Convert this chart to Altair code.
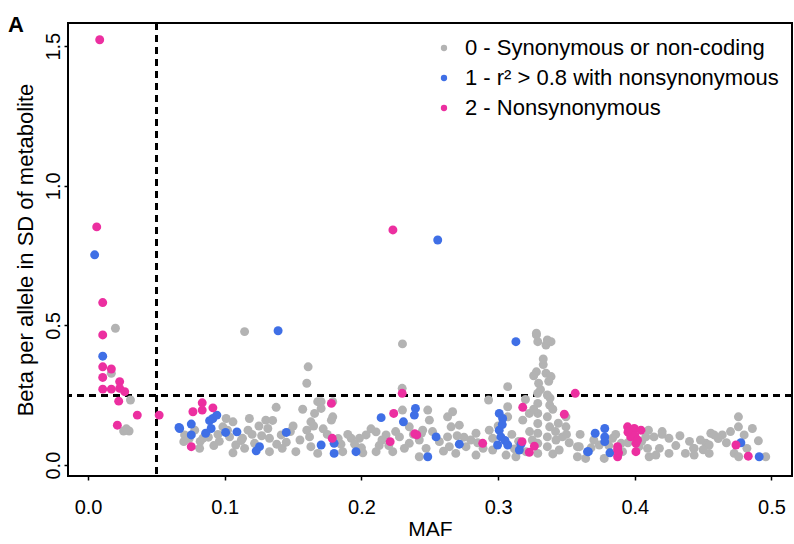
import altair as alt
import pandas as pd

# ---- data ----
cat_labels = ["0 - Synonymous or non-coding",
              "1 - r\u00b2 > 0.8 with nonsynonymous",
              "2 - Nonsynonymous"]
colors = ["#b3b3b3", "#3f6fe6", "#ec2fa0"]

maf_syn = [0.020, 0.017, 0.031, 0.026, 0.030, 0.028,
           0.0706, 0.070, 0.074, 0.078, 0.0816, 0.084, 0.082, 0.088, 0.095, 0.0986, 0.1035, 0.101, 0.106, 0.096, 0.092,
           0.1145, 0.161, 0.16, 0.1376, 0.157, 0.168, 0.1657, 0.163, 0.162, 0.163, 0.168, 0.152, 0.118, 0.117, 0.113,
           0.108, 0.106, 0.1145, 0.1218, 0.13, 0.1315, 0.1327, 0.1327, 0.1413, 0.125, 0.12, 0.138, 0.148, 0.155, 0.16,
           0.165, 0.142,
           0.23, 0.2298, 0.179, 0.1705, 0.179, 0.178, 0.1705, 0.23, 0.235, 0.2485, 0.2497, 0.2448, 0.263, 0.2656, 0.263,
           0.2643, 0.257, 0.2423, 0.235, 0.2278, 0.218, 0.2107, 0.2034, 0.1985, 0.1925, 0.1863, 0.2107, 0.201, 0.2229,
           0.2423, 0.2314, 0.2473, 0.2667, 0.2716, 0.2838, 0.2765, 0.2838, 0.269, 0.2935, 0.296, 0.296, 0.293, 0.307,
           0.307, 0.307, 0.185, 0.19, 0.215, 0.225, 0.28, 0.289,
           0.328, 0.329, 0.335, 0.3387, 0.328, 0.336, 0.328, 0.335, 0.3387, 0.3296, 0.3289, 0.336, 0.329, 0.3377, 0.329,
           0.336, 0.329, 0.3377, 0.329, 0.336, 0.329, 0.336, 0.329, 0.3423, 0.347, 0.3496, 0.3447, 0.3058, 0.313, 0.3204,
           0.3228, 0.318, 0.3496, 0.358, 0.358, 0.326, 0.333, 0.326, 0.34, 0.323, 0.342, 0.325, 0.34, 0.352, 0.31, 0.315,
           0.3594, 0.364, 0.3776, 0.3837, 0.39, 0.391, 0.408, 0.4093, 0.414, 0.4154, 0.425, 0.425, 0.437, 0.443, 0.452,
           0.4556, 0.374, 0.4105, 0.403, 0.4544, 0.386, 0.42, 0.41, 0.43, 0.448, 0.37,
           0.4758, 0.4758, 0.486, 0.48, 0.4904, 0.464, 0.458, 0.4544, 0.4434, 0.4434, 0.4727, 0.476, 0.4958, 0.47, 0.467,
           0.112, 0.127, 0.145, 0.172, 0.183, 0.195, 0.207, 0.22, 0.238, 0.252, 0.26, 0.275, 0.285, 0.3, 0.312,
           0.333, 0.338, 0.331, 0.344, 0.36, 0.368, 0.395, 0.405, 0.418, 0.433, 0.44, 0.461, 0.482,
           0.102, 0.135, 0.15, 0.175, 0.2, 0.213, 0.244, 0.27, 0.32, 0.337, 0.35, 0.381, 0.42, 0.45]
beta_syn = [0.49, 0.329, 0.233, 0.122, 0.122, 0.13,
            0.108, 0.084, 0.095, 0.125, 0.06, 0.096, 0.085, 0.1, 0.11, 0.137, 0.101, 0.167, 0.155, 0.085, 0.07,
            0.478, 0.352, 0.293, 0.207, 0.2, 0.227, 0.185, 0.155, 0.101, 0.066, 0.042, 0.048, 0.167, 0.125, 0.096,
            0.072, 0.044, 0.06, 0.078, 0.161, 0.131, 0.096, 0.048, 0.108, 0.14, 0.11, 0.075, 0.12, 0.09, 0.125,
            0.14, 0.06,
            0.434, 0.275, 0.227, 0.227, 0.173, 0.161, 0.203, 0.197, 0.137, 0.197, 0.161, 0.125, 0.173, 0.137, 0.101,
            0.066, 0.084, 0.09, 0.078, 0.101, 0.108, 0.119, 0.108, 0.096, 0.096, 0.048, 0.048, 0.044, 0.048,
            0.03, 0.06, 0.06, 0.191, 0.143, 0.114, 0.066, 0.036, 0.042, 0.125, 0.096, 0.054, 0.233, 0.281,
            0.209, 0.173, 0.075, 0.11, 0.09, 0.12, 0.09, 0.06,
            0.472, 0.442, 0.43, 0.442, 0.466, 0.448, 0.334, 0.329, 0.317, 0.293, 0.257, 0.251, 0.221, 0.215, 0.185,
            0.173, 0.149, 0.137, 0.114, 0.101, 0.078, 0.066, 0.042, 0.09, 0.101, 0.137, 0.054, 0.036, 0.03, 0.048,
            0.185, 0.161, 0.173, 0.066, 0.03, 0.32, 0.36, 0.2, 0.2, 0.12, 0.12, 0.09, 0.04, 0.08, 0.11, 0.085,
            0.066, 0.024, 0.024, 0.096, 0.078, 0.048, 0.101, 0.06, 0.101, 0.036, 0.096, 0.042, 0.042, 0.06, 0.078,
            0.114, 0.072, 0.03, 0.066, 0.042, 0.11, 0.12, 0.125, 0.07, 0.09, 0.09,
            0.173, 0.137, 0.131, 0.108, 0.087, 0.108, 0.108, 0.072, 0.06, 0.036, 0.042, 0.03, 0.03, 0.12, 0.08,
            0.088, 0.105, 0.082, 0.13, 0.095, 0.075, 0.13, 0.07, 0.11, 0.12, 0.05, 0.1, 0.08, 0.14, 0.058,
            0.38, 0.24, 0.27, 0.15, 0.11, 0.062, 0.08, 0.085, 0.06, 0.105, 0.085, 0.095, 0.06,
            0.125, 0.16, 0.14, 0.11, 0.062, 0.07, 0.115, 0.105, 0.235, 0.3, 0.11, 0.07, 0.11, 0.055]

maf_ld = [0.0048, 0.0107,
          0.0665, 0.0755, 0.0755, 0.067, 0.086, 0.0889, 0.0913, 0.0942, 0.090, 0.1006, 0.1089,
          0.139, 0.145, 0.1254, 0.123, 0.1705, 0.18, 0.18, 0.196,
          0.2144, 0.2558, 0.313,
          0.2395, 0.2387, 0.2307, 0.2546, 0.2716, 0.2485,
          0.3008, 0.3033, 0.3008, 0.302, 0.2996, 0.307, 0.3155, 0.3167, 0.303, 0.305,
          0.366, 0.371, 0.378, 0.378, 0.378, 0.3654, 0.3818,
          0.4776, 0.491]
beta_ld = [0.753, 0.39,
           0.135, 0.147, 0.108, 0.131, 0.114, 0.159, 0.167, 0.179, 0.131, 0.117, 0.119,
           0.481, 0.117, 0.066, 0.051, 0.072, 0.078, 0.042, 0.048,
           0.17, 0.806, 0.442,
           0.203, 0.179, 0.155, 0.101, 0.075, 0.03,
           0.185, 0.167, 0.125, 0.101, 0.072, 0.072, 0.054, 0.075, 0.145, 0.088,
           0.048, 0.114, 0.131, 0.101, 0.084, 0.048, 0.044,
           0.08, 0.03]

maf_ns = [0.0085, 0.0063, 0.0107, 0.0107, 0.0107, 0.017, 0.0107, 0.0231, 0.0107, 0.017, 0.0231, 0.0268, 0.0224,
          0.036, 0.052, 0.0214,
          0.0767, 0.0835, 0.0835, 0.0913, 0.0755,
          0.1786, 0.178,
          0.223, 0.2236, 0.221, 0.2298, 0.2405, 0.239,
          0.2887, 0.318, 0.3175, 0.3265, 0.3228, 0.3484, 0.3564,
          0.3947, 0.3996, 0.4045, 0.397, 0.4008, 0.4008, 0.3874, 0.3874, 0.3881, 0.395, 0.4, 0.402, 0.3874,
          0.474, 0.483]
beta_ns = [1.523, 0.853, 0.582, 0.466, 0.352, 0.344, 0.314, 0.299, 0.272, 0.272, 0.275, 0.263, 0.229,
           0.179, 0.179, 0.143,
           0.191, 0.223, 0.197, 0.205, 0.066,
           0.096, 0.221,
           0.842, 0.185, 0.084, 0.257, 0.108, 0.112,
           0.078, 0.207, 0.084, 0.068, 0.046, 0.182, 0.257,
           0.137, 0.131, 0.125, 0.101, 0.078, 0.048, 0.066, 0.03, 0.044, 0.118, 0.105, 0.09, 0.055,
           0.072, 0.032]

maf_threshold = 0.05
beta_threshold = 0.25
x_ticks = [0.0, 0.1, 0.2, 0.3, 0.4, 0.5]
y_ticks = [0.0, 0.5, 1.0, 1.5]
panel_label = ["A"]

rows = []
for k, (xs, ys) in enumerate([(maf_syn, beta_syn), (maf_ld, beta_ld), (maf_ns, beta_ns)]):
    for a, b in zip(xs, ys):
        rows.append({"MAF": a, "Beta": b, "Category": cat_labels[k], "rank": k})
df = pd.DataFrame(rows)
one = pd.DataFrame({"lab": panel_label})

FONT = "Liberation Sans"

xscale = alt.Scale(domain=[-0.0147, 0.515], nice=False, zero=False)
yscale = alt.Scale(domain=[-0.039, 1.583], nice=False, zero=False)

points = alt.Chart(df).mark_circle(size=80, opacity=1).encode(
    x=alt.X("MAF:Q", scale=xscale,
            axis=alt.Axis(title="MAF", values=x_ticks, format=".1f", domain=False, grid=False,
                          tickSize=4, tickWidth=1.5, tickColor="black", labelPadding=17,
                          labelFontSize=20, labelFont=FONT, labelColor="black",
                          titleFont=FONT, titleFontSize=21, titleFontWeight="normal",
                          titleColor="black", titlePadding=1)),
    y=alt.Y("Beta:Q", scale=yscale,
            axis=alt.Axis(title="Beta per allele in SD of metabolite", values=y_ticks, format=".1f",
                          domain=False, grid=False, tickSize=4, tickWidth=1.5, tickColor="black",
                          labelAngle=270, labelAlign="center", labelBaseline="bottom", labelPadding=1,
                          labelFontSize=20, labelFont=FONT, labelColor="black",
                          titleFont=FONT, titleFontSize=22, titleFontWeight="normal",
                          titleColor="black", titlePadding=6)),
    color=alt.Color("Category:N",
                    scale=alt.Scale(domain=cat_labels, range=colors),
                    legend=alt.Legend(title=None, orient="none", legendX=365, legendY=14,
                                      symbolType="circle", symbolSize=40, labelFont=FONT,
                                      labelFontSize=22, labelColor="black", labelOffset=10,
                                      labelLimit=0, rowPadding=8, padding=0,
                                      symbolStrokeWidth=0)),
    order=alt.Order("rank:Q"),
)

vline = alt.Chart(df).mark_rule(color="black", strokeWidth=1.8, strokeDash=[7, 5]).encode(
    x=alt.datum(maf_threshold))
hline = alt.Chart(df).mark_rule(color="black", strokeWidth=1.8, strokeDash=[7, 5]).encode(
    y=alt.datum(beta_threshold))

label = alt.Chart(one).mark_text(fontSize=22, fontWeight="bold", font=FONT,
                                 color="black", align="left", baseline="middle").encode(
    text="lab:N", x=alt.value(-60), y=alt.value(2))

chart = alt.layer(vline, hline, points, label).properties(
    width=724, height=453,
    background="white",
    autosize=alt.AutoSizeParams(type="none"),
    padding={"left": 68, "top": 23, "right": 2, "bottom": 68},
).configure_view(stroke="black", strokeWidth=2)

chart.save("out.html", embed_options={"renderer": "svg", "actions": False})
